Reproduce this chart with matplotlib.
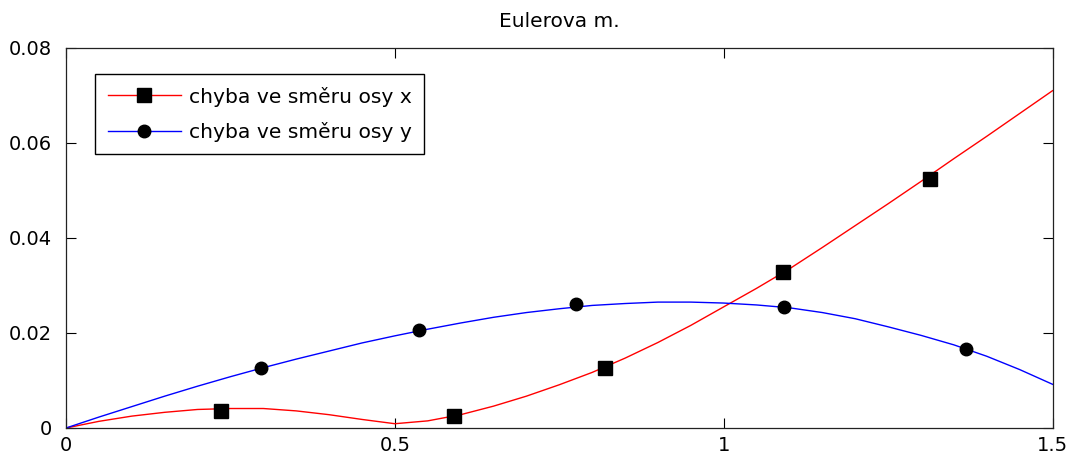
import matplotlib
matplotlib.use("Agg")
import matplotlib.pyplot as plt
from matplotlib.lines import Line2D

# curve samples
x_line = [0.0, 0.05, 0.1, 0.15, 0.2, 0.25, 0.3, 0.35, 0.4, 0.45, 0.5, 0.55, 0.6, 0.65, 0.7, 0.75,
          0.8, 0.85, 0.9, 0.95, 1.0, 1.05, 1.1, 1.15, 1.2, 1.25, 1.3, 1.35, 1.4, 1.45, 1.5]
err_x = [0.0, 0.0014, 0.0025, 0.0033, 0.0039, 0.0041, 0.0041, 0.0036, 0.0028, 0.0018, 0.0009, 0.0015,
         0.0028, 0.0046, 0.0067, 0.0091, 0.0117, 0.0147, 0.0180, 0.0216, 0.0255, 0.0294, 0.0335,
         0.0380, 0.0426, 0.0472, 0.0519, 0.0567, 0.0614, 0.0662, 0.0710]
err_y = [0.0, 0.0023, 0.0045, 0.0067, 0.0088, 0.0108, 0.0127, 0.0145, 0.0162, 0.0179, 0.0194, 0.0208,
         0.0221, 0.0233, 0.0243, 0.0251, 0.0258, 0.0262, 0.0265, 0.0265, 0.0263, 0.0259, 0.0253,
         0.0243, 0.0230, 0.0213, 0.0195, 0.0175, 0.0151, 0.0123, 0.0092]

# marker points
mx_x = [0.236, 0.590, 0.820, 1.090, 1.313]
my_x = [0.0036, 0.0026, 0.0127, 0.0328, 0.0525]
mx_y = [0.297, 0.537, 0.775, 1.091, 1.369]
my_y = [0.0126, 0.0206, 0.0262, 0.0254, 0.0167]

labels = ["chyba ve směru osy x", "chyba ve směru osy y"]
title = "Eulerova m."
xticks = [0, 0.5, 1, 1.5]
xticklabels = ["0", "0.5", "1", "1.5"]
yticks = [0, 0.02, 0.04, 0.06, 0.08]
yticklabels = ["0", "0.02", "0.04", "0.06", "0.08"]

plt.rcParams['font.family'] = ['DejaVu Sans']
fig = plt.figure(figsize=(10.74, 4.61), dpi=100)
ax = fig.add_axes([0.0615, 0.0716, 0.9185, 0.8244])

ax.plot(x_line, err_x, color='red', lw=1.0)
ax.plot(x_line, err_y, color='blue', lw=1.0)
ax.plot(mx_x, my_x, ls='none', marker='s', ms=10, mfc='black', mec='black')
ax.plot(mx_y, my_y, ls='none', marker='o', ms=9, mfc='black', mec='black')

ax.set_xlim(0, 1.5)
ax.set_ylim(0, 0.08)
ax.set_xticks(xticks)
ax.set_xticklabels(xticklabels)
ax.set_yticks(yticks)
ax.set_yticklabels(yticklabels)
ax.tick_params(axis='both', direction='in', length=7, width=0.8, top=True, right=True,
               labelsize=14, colors='black')
ax.tick_params(axis='y', pad=10)
ax.tick_params(axis='x', pad=6)
for s in ax.spines.values():
    s.set_linewidth(0.9)
    s.set_color('#222222')
ax.set_title(title, fontsize=14.5, pad=15)

handles = [
    Line2D([], [], color='red', lw=1.0, marker='s', ms=10, mfc='black', mec='black'),
    Line2D([], [], color='blue', lw=1.0, marker='o', ms=9, mfc='black', mec='black'),
]
leg = ax.legend(handles, labels, loc='upper left', bbox_to_anchor=(0.0294, 0.9316),
                prop={'size': 14.6}, frameon=True, fancybox=False, framealpha=1,
                edgecolor='black', handlelength=3.6, handletextpad=0.4,
                borderpad=0.62, labelspacing=0.75, borderaxespad=0)
leg.get_frame().set_linewidth(1.0)

fig.savefig("out.png", dpi=100)
